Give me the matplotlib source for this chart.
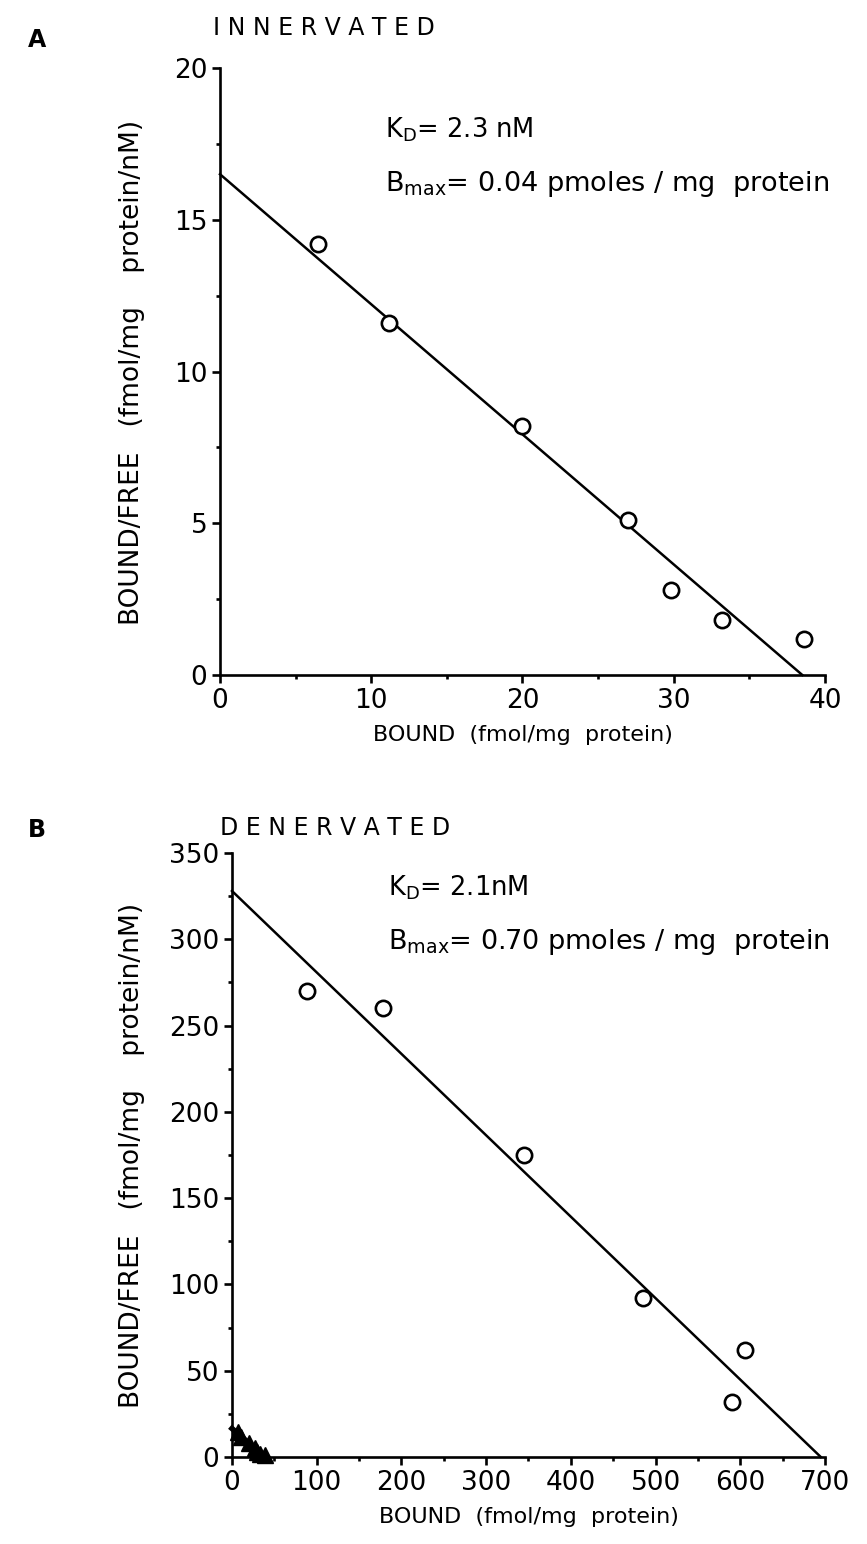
import numpy as np
import matplotlib
matplotlib.use("Agg")
import matplotlib.pyplot as plt
from matplotlib.ticker import MultipleLocator

plt.rcParams['font.family'] = ['DejaVu Sans']
plt.rcParams['mathtext.default'] = 'regular'

# Panel A: innervated muscle (Scatchard plot)
inn_bound = [6.5, 11.2, 20.0, 27.0, 29.8, 33.2, 38.6]
inn_ratio = [14.2, 11.6, 8.2, 5.1, 2.8, 1.8, 1.2]
inn_fit_bound = [0.0, 38.5]
inn_fit_ratio = [16.5, 0.0]
inn_xticks = [0, 10, 20, 30, 40]
inn_yticks = [0, 5, 10, 15, 20]

# Panel B: denervated muscle
den_bound = [88, 178, 345, 485, 590, 605]
den_ratio = [270, 260, 175, 92, 32, 62]
den_fit_bound = [0.0, 695.0]
den_fit_ratio = [328.0, 0.0]
den_xticks = [0, 100, 200, 300, 400, 500, 600, 700]
den_yticks = [0, 50, 100, 150, 200, 250, 300, 350]

W, H = 867, 1544
fig = plt.figure(figsize=(W / 100, H / 100), dpi=100)

LW = 1.9
TICK_FS = 19
XLAB = 'BOUND  (fmol/mg  protein)'
YLAB = 'BOUND/FREE   (fmol/mg    protein/nM)'


def style_axes(ax, xticks, yticks, xminor, yminor):
    for s in ('top', 'right'):
        ax.spines[s].set_visible(False)
    for s in ('left', 'bottom'):
        ax.spines[s].set_linewidth(LW)
    ax.set_xlim(xticks[0], xticks[-1])
    ax.set_ylim(yticks[0], yticks[-1])
    ax.set_xticks(xticks)
    ax.set_yticks(yticks)
    ax.xaxis.set_minor_locator(MultipleLocator(xminor))
    ax.yaxis.set_minor_locator(MultipleLocator(yminor))
    ax.tick_params(which='major', direction='out', length=6, width=LW,
                   labelsize=TICK_FS, pad=3)
    ax.tick_params(which='minor', direction='out', length=3, width=LW)
    ax.set_xlabel(XLAB, fontsize=16, labelpad=8)


# ---- Panel A ----
axA = fig.add_axes([220 / W, 1 - 675 / H, 605 / W, 607 / H])
axA.plot(inn_fit_bound, inn_fit_ratio, color='black', lw=1.8, clip_on=False)
axA.plot(inn_bound, inn_ratio, 'o', mfc='white', mec='black', mew=1.9,
         ms=11, clip_on=False, zorder=3)
style_axes(axA, inn_xticks, inn_yticks, 5, 2.5)
fig.text(132 / W, 1 - 372 / H, YLAB, rotation=90, fontsize=19,
         ha='center', va='center')
axA.text(385 / W, 1 - 130 / H, r'K$_{D}$= 2.3 nM', transform=fig.transFigure,
         fontsize=18.5, va='center')
axA.text(385 / W, 1 - 184 / H, r'B$_{max}$= 0.04 pmoles / mg  protein',
         transform=fig.transFigure, fontsize=19.5, va='center')
fig.text(28 / W, 1 - 40 / H, 'A', fontsize=17, fontweight='bold', va='center')
fig.text(213 / W, 1 - 28 / H, 'I N N E R V A T E D', fontsize=17,
         va='center')

# ---- Panel B ----
axB = fig.add_axes([232 / W, 1 - 1457 / H, 593 / W, 604 / H])
axB.plot(den_fit_bound, den_fit_ratio, color='black', lw=1.8, clip_on=False)
axB.plot(den_bound, den_ratio, 'o', mfc='white', mec='black', mew=1.9,
         ms=11, clip_on=False, zorder=3)
# innervated data re-plotted on the denervated scale
axB.plot(inn_fit_bound, inn_fit_ratio, color='black', lw=4, clip_on=False)
axB.plot(inn_bound, inn_ratio, '^', mfc='black', mec='black', ms=12,
         clip_on=False, zorder=3)
style_axes(axB, den_xticks, den_yticks, 50, 25)
fig.text(132 / W, 1 - 1155 / H, YLAB, rotation=90, fontsize=19,
         ha='center', va='center')
axB.text(388 / W, 1 - 888 / H, r'K$_{D}$= 2.1nM', transform=fig.transFigure,
         fontsize=18.5, va='center')
axB.text(388 / W, 1 - 942 / H, r'B$_{max}$= 0.70 pmoles / mg  protein',
         transform=fig.transFigure, fontsize=19.5, va='center')
fig.text(28 / W, 1 - 830 / H, 'B', fontsize=17, fontweight='bold', va='center')
fig.text(220 / W, 1 - 828 / H, 'D E N E R V A T E D', fontsize=17,
         va='center')

fig.savefig('out.png', dpi=100, facecolor='white')
